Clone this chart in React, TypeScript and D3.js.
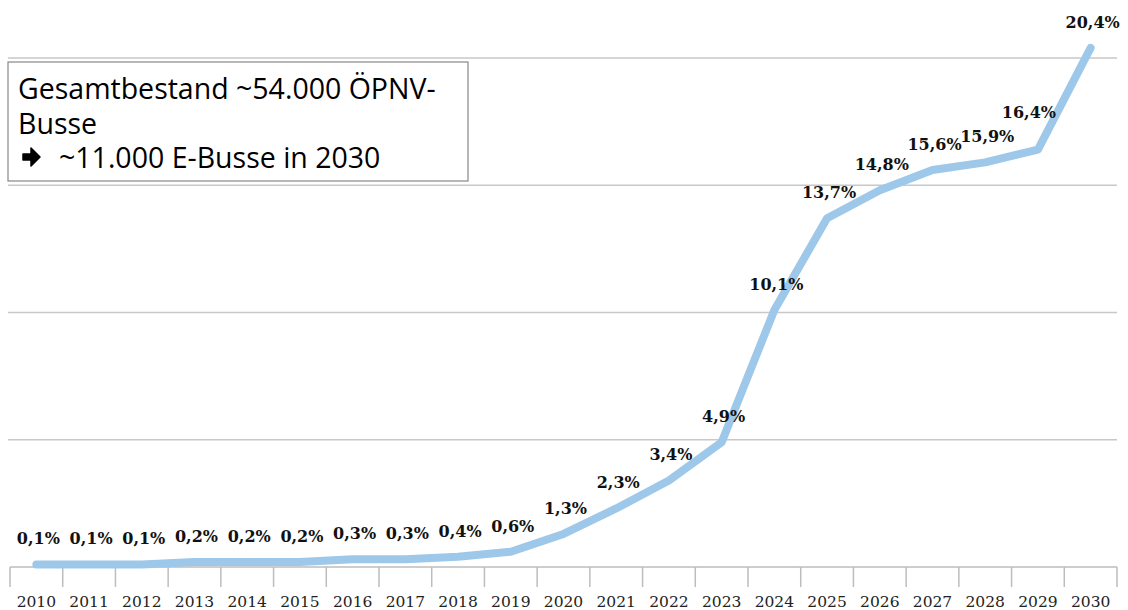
import React from "react";
import * as d3 from "d3";

const years = ["2010","2011","2012","2013","2014","2015","2016","2017","2018","2019","2020","2021","2022","2023","2024","2025","2026","2027","2028","2029","2030"];
const shares = [0.1,0.1,0.1,0.2,0.2,0.2,0.3,0.3,0.4,0.6,1.3,2.3,3.4,4.9,10.1,13.7,14.8,15.6,15.9,16.4,20.4];
const gridValues = [5, 10, 15, 20];
const noteLines = ["Gesamtbestand ~54.000 ÖPNV-", "Busse", "~11.000 E-Busse in 2030"];

const W = 1128, H = 610;
const left = 10, right = 1117, top = 58, bottom = 567;

export default function App() {
  const x = d3.scaleBand<string>().domain(years).range([left, right]);
  const y = d3.scaleLinear().domain([0, 20]).range([bottom, top]);
  const cx = (i: number) => (x(years[i]) as number) + x.bandwidth() / 2;
  const line = d3.line<number>()
    .x((_, i) => cx(i))
    .y((d) => y(d));
  const tickXs = [...years.map((yr) => x(yr) as number), right];
  const fmt = (v: number) => v.toFixed(1).replace(".", ",") + "%";
  const serif = "'DejaVu Serif', 'Liberation Serif', serif";
  const sans = "'Open Sans', 'Noto Sans', sans-serif";
  return (
    <svg width={W} height={H} style={{ position: "absolute", left: 0, top: 0, background: "#fff" }}>
      {gridValues.map((g) => (
        <line key={g} x1={left - 2} x2={right} y1={y(g)} y2={y(g)} stroke="#c8c8c8" strokeWidth={1.5} />
      ))}
      <line x1={left} x2={right} y1={bottom} y2={bottom} stroke="#bdbdbd" strokeWidth={1.5} />
      {tickXs.map((tx, i) => (
        <line key={i} x1={tx} x2={tx} y1={bottom} y2={bottom + 20} stroke="#bdbdbd" strokeWidth={1.5} />
      ))}
      {years.map((yr, i) => (
        <text key={yr} x={cx(i)} y={607} textAnchor="middle"
          fontFamily={serif} fontSize={15.5} fill="#222">{yr}</text>
      ))}
      <path d={line(shares) || ""} fill="none" stroke="#9dc8ea" strokeWidth={8} strokeLinecap="round" strokeLinejoin="round" />
      {shares.map((v, i) => {
        const special = years[i] === "2029";
        return (
          <text key={i} x={cx(i) + (special ? -9 : 2)} y={y(v) - (special ? 32 : 20)} textAnchor="middle"
            fontFamily={serif} fontWeight="bold" fontSize={16} fill="#111">{fmt(v)}</text>
        );
      })}
      <rect x={8} y={62} width={460} height={119} fill="#fff" stroke="#888" strokeWidth={1.2} />
      <text x={18} y={99} fontFamily={sans} fontSize={28.5} fill="#000">{noteLines[0]}</text>
      <text x={18} y={134} fontFamily={sans} fontSize={28.5} fill="#000">{noteLines[1]}</text>
      <path d="M23,154 h8 v-6 l9,9 l-9,9 v-6 h-8 z" fill="#000" stroke="#000" strokeWidth={1.5} strokeLinejoin="round" />
      <text x={59} y={168} fontFamily={sans} fontSize={28.5} fill="#000">{noteLines[2]}</text>
    </svg>
  );
}
